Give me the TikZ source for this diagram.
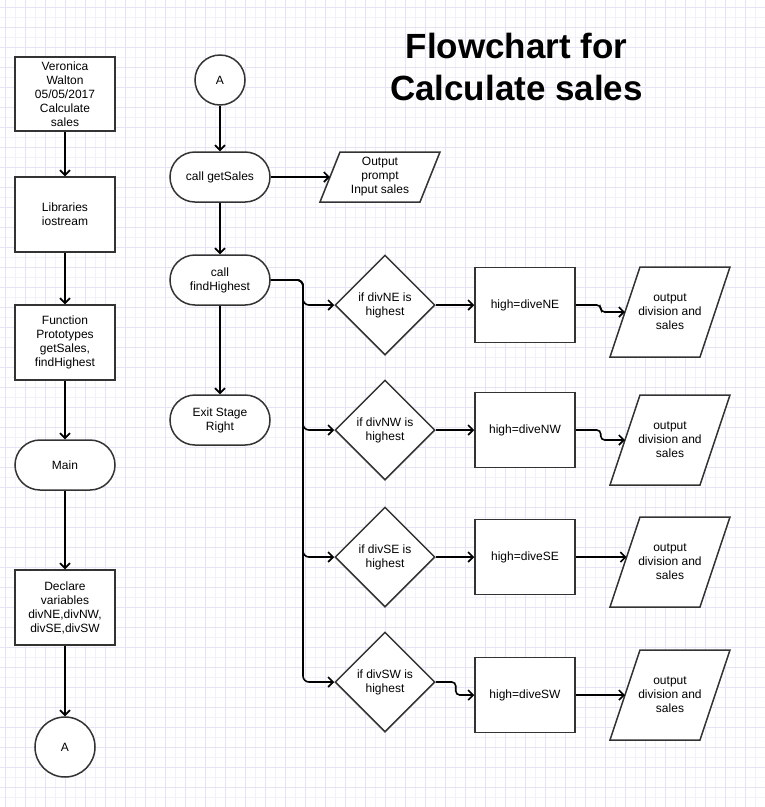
\documentclass[tikz,border=0pt]{standalone}
\usepackage{fontspec}
\setmainfont{Liberation Sans}
\usetikzlibrary{arrows.meta,shapes.geometric,calc}
\definecolor{gminor}{HTML}{F2F1FA}
\definecolor{gmajor}{HTML}{E6E3F5}
\definecolor{edgec}{HTML}{333333}
% name, cx, cy, width, height, slant, text
\newcommand{\ioshape}[7]{%
  \draw[shp] ({#2-#4/2},{#3+#5/2}) -- ({#2+#4/2-#6},{#3+#5/2}) -- ({#2+#4/2},{#3-#5/2}) -- ({#2-#4/2+#6},{#3-#5/2}) -- cycle;
  \node[txt] (#1) at (#2,#3) {#7};
  \coordinate (#1-l) at ({#2-#4/2+#6/2},#3);
}
\begin{document}
\begin{tikzpicture}[x=1pt,y=-1pt,
  txt/.style={align=center,font=\fontsize{12}{14}\selectfont,inner sep=0pt},
  shp/.style={draw=edgec,line width=1.5pt,fill=white},
  box/.style={txt,shp,rectangle,minimum width=100pt,minimum height=75pt},
  term/.style={box,rounded corners=25pt,minimum height=50pt},
  dia/.style={txt,shp,diamond,aspect=1,minimum size=100pt},
  circ/.style={txt,shp,circle},
  conn/.style={line width=1.6pt,black,-{Straight Barb[length=5pt,width=10pt]}},
  ttl/.style={anchor=base,inner sep=0pt,font=\bfseries\fontsize{35}{42}\selectfont}
]
\useasboundingbox (0,0) rectangle (765,807);
\fill[white] (0,0) rectangle (765,807);
% grid
\foreach \x in {5,15,...,765} \draw[gminor,line width=0.8pt] (\x,0) -- (\x,807);
\foreach \y in {7,17,...,807} \draw[gminor,line width=0.8pt] (0,\y) -- (765,\y);
\foreach \x in {5,25,...,765} \draw[gmajor,line width=0.8pt] (\x,0) -- (\x,807);
\foreach \y in {7,27,...,807} \draw[gmajor,line width=0.8pt] (0,\y) -- (765,\y);

% title
\node[ttl] (t1) at (516.5,58.3) {Flowchart for};
\node[ttl] (t2) at (516.5,100) {Calculate sales};

% left column
\node[box,minimum height=74pt] (b1) at (65,94) {Veronica\\Walton\\05/05/2017\\Calculate\\sales};
\node[box] (b2) at (65,214.5) {Libraries\\iostream};
\node[box] (b3) at (65,342.5) {Function\\Prototypes\\getSales,\\findHighest};
\node[term] (mn) at (65,465) {Main};
\node[box] (b4) at (65,607.5) {Declare\\variables\\divNE,divNW,\\divSE,divSW};
\node[circ,minimum size=60pt] (a2) at (65,747) {A};

\draw[conn] (b1) -- (b2);
\draw[conn] (b2) -- (b3);
\draw[conn] (b3) -- (mn);
\draw[conn] (mn) -- (b4);
\draw[conn] (b4) -- (a2);

% middle column
\node[circ,minimum size=50pt] (a1) at (220,80) {A};
\node[term] (gs) at (220,177) {call getSales};
\node[term] (fh) at (220,280) {call\\findHighest};
\node[term] (ex) at (220,420) {Exit Stage\\Right};
\ioshape{op}{380}{177}{120}{50}{20}{Output\\prompt\\Input sales}

\draw[conn] (a1) -- (gs);
\draw[conn] (gs) -- (fh);
\draw[conn] (fh) -- (ex);
\draw[conn] (gs.east) -- (op-l);

% decisions
\node[dia] (d1) at (385,305) {if divNE is\\highest};
\node[dia] (d2) at (385,430) {if divNW is\\highest};
\node[dia] (d3) at (385,557) {if divSE is\\highest};
\node[dia] (d4) at (385,682) {if divSW is\\highest};

\node[box] (r1) at (525,305) {high=diveNE};
\node[box] (r2) at (525,430) {high=diveNW};
\node[box] (r3) at (525,557) {high=diveSE};
\node[box] (r4) at (525,695) {high=diveSW};

\ioshape{o1}{670}{312}{120}{90}{30}{output\\division and\\sales}
\ioshape{o2}{670}{440}{120}{90}{30}{output\\division and\\sales}
\ioshape{o3}{670}{562}{120}{90}{30}{output\\division and\\sales}
\ioshape{o4}{670}{695}{120}{90}{30}{output\\division and\\sales}

\coordinate (bus) at (303,280);
\foreach \d in {d1,d2,d3,d4}
  \draw[conn,rounded corners=6pt] (fh.east) -- (bus) |- (\d.west);

\draw[conn] (d1.east) -- (r1.west);
\draw[conn] (d2.east) -- (r2.west);
\draw[conn] (d3.east) -- (r3.west);
\draw[conn,rounded corners=4pt] (d4.east) -- ++(20,0) |- (r4.west);

\draw[conn,rounded corners=4pt] (r1.east) -- ++(25,0) |- (o1-l);
\draw[conn,rounded corners=4pt] (r2.east) -- ++(25,0) |- (o2-l);
\draw[conn] (r3.east) -- ($(r3.east -| o3-l)+(1.5,0)$);
\draw[conn] (r4.east) -- (o4-l);
\end{tikzpicture}
\end{document}
